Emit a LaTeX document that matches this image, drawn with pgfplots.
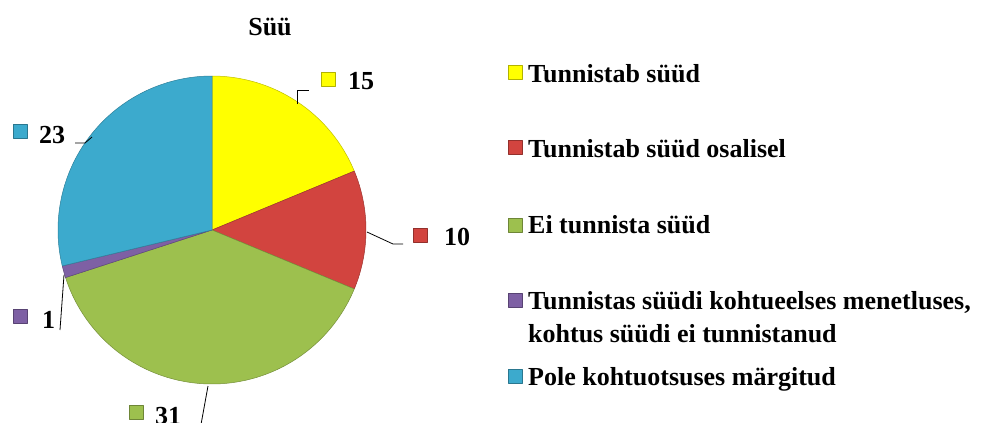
\documentclass[border=0pt]{standalone}
\usepackage{pgfplots}
\pgfplotsset{compat=1.18}
\usepackage{fontspec}
\setmainfont{Liberation Serif}
\definecolor{cYel}{HTML}{FFFF00}
\definecolor{cRed}{HTML}{D2443F}
\definecolor{cGrn}{HTML}{9DC04E}
\definecolor{cPur}{HTML}{7E60A4}
\definecolor{cBlu}{HTML}{3CAACD}
% data values
\def\vA{15}\def\vB{10}\def\vC{31}\def\vD{1}\def\vE{23}
\pgfmathsetmacro\tot{\vA+\vB+\vC+\vD+\vE}
\pgfmathsetmacro\aA{90}
\pgfmathsetmacro\aB{\aA-360*\vA/\tot}
\pgfmathsetmacro\aC{\aB-360*\vB/\tot}
\pgfmathsetmacro\aD{\aC-360*\vC/\tot}
\pgfmathsetmacro\aE{\aD-360*\vD/\tot}
\pgfmathsetmacro\aF{\aE-360*\vE/\tot}
\def\cx{212}\def\cy{230}\def\R{154}
\newcommand\lbl{\bfseries\fontsize{26}{33}\selectfont}
\begin{document}
\begin{tikzpicture}
\begin{axis}[width=991pt,height=423pt,scale only axis,hide axis,
  xmin=0,xmax=991,ymin=0,ymax=423,y dir=reverse,clip=false,
  every axis plot/.append style={line join=round}]
% pie slices
\addplot[fill=cYel,draw=cYel!75!black,line width=0.5pt,domain=\aB:\aA,samples=60]
  ({\cx+\R*cos(x)},{\cy-\R*sin(x)}) -- (\cx,\cy) -- cycle;
\addplot[fill=cRed,draw=cRed!75!black,line width=0.5pt,domain=\aC:\aB,samples=40]
  ({\cx+\R*cos(x)},{\cy-\R*sin(x)}) -- (\cx,\cy) -- cycle;
\addplot[fill=cGrn,draw=cGrn!75!black,line width=0.5pt,domain=\aD:\aC,samples=100]
  ({\cx+\R*cos(x)},{\cy-\R*sin(x)}) -- (\cx,\cy) -- cycle;
\addplot[fill=cPur,draw=cPur!75!black,line width=0.5pt,domain=\aE:\aD,samples=10]
  ({\cx+\R*cos(x)},{\cy-\R*sin(x)}) -- (\cx,\cy) -- cycle;
\addplot[fill=cBlu,draw=cBlu!75!black,line width=0.5pt,domain=\aF:\aE,samples=80]
  ({\cx+\R*cos(x)},{\cy-\R*sin(x)}) -- (\cx,\cy) -- cycle;
% title
\node[anchor=base,inner sep=0] at (270,35) {\lbl Süü};
% leader lines
\addplot[black,line width=0.8pt] coordinates {(297,104) (297,90) (309,90)};
\addplot[black,line width=0.8pt] coordinates {(367,232) (393,244) (403,244)};
\addplot[black,line width=0.8pt] coordinates {(92,137) (85,143) (75,143)};
\addplot[black,line width=0.8pt] coordinates {(64,275) (60,330)};
\addplot[black,line width=0.8pt] coordinates {(208,386) (200,430)};
% data label keys
\addplot[fill=cYel,draw=cYel!70!black] coordinates {(321,72) (335,72) (335,86) (321,86)} -- cycle;
\addplot[fill=cRed,draw=cRed!70!black] coordinates {(413,228) (427,228) (427,242) (413,242)} -- cycle;
\addplot[fill=cBlu,draw=cBlu!70!black] coordinates {(13,124) (27,124) (27,138) (13,138)} -- cycle;
\addplot[fill=cPur,draw=cPur!70!black] coordinates {(13,309) (27,309) (27,323) (13,323)} -- cycle;
\addplot[fill=cGrn,draw=cGrn!70!black] coordinates {(129,405) (143,405) (143,419) (129,419)} -- cycle;
\node[anchor=base west,inner sep=0] at (348,89) {\lbl 15};
\node[anchor=base west,inner sep=0] at (444,245) {\lbl 10};
\node[anchor=base west,inner sep=0] at (39,143) {\lbl 23};
\node[anchor=base west,inner sep=0] at (42,328) {\lbl 1};
\node[anchor=base west,inner sep=0] at (155,424) {\lbl 31};
% legend
\addplot[fill=cYel,draw=cYel!70!black] coordinates {(508,65) (522,65) (522,79) (508,79)} -- cycle;
\addplot[fill=cRed,draw=cRed!70!black] coordinates {(508,140) (522,140) (522,154) (508,154)} -- cycle;
\addplot[fill=cGrn,draw=cGrn!70!black] coordinates {(508,218) (522,218) (522,232) (508,232)} -- cycle;
\addplot[fill=cPur,draw=cPur!70!black] coordinates {(508,293) (522,293) (522,307) (508,307)} -- cycle;
\addplot[fill=cBlu,draw=cBlu!70!black] coordinates {(508,369) (522,369) (522,383) (508,383)} -- cycle;
\node[anchor=base west,inner sep=0] at (528,82) {\lbl Tunnistab süüd};
\node[anchor=base west,inner sep=0] at (528,157) {\lbl Tunnistab süüd osalisel};
\node[anchor=base west,inner sep=0] at (528,233) {\lbl Ei tunnista süüd};
\node[anchor=base west,inner sep=0] at (528,309) {\lbl Tunnistas süüdi kohtueelses menetluses,};
\node[anchor=base west,inner sep=0] at (528,342) {\lbl kohtus süüdi ei tunnistanud};
\node[anchor=base west,inner sep=0] at (528,385) {\lbl Pole kohtuotsuses märgitud};
\end{axis}
\pgfresetboundingbox
\path (current axis.south west) rectangle (current axis.north east);
\end{tikzpicture}
\end{document}
